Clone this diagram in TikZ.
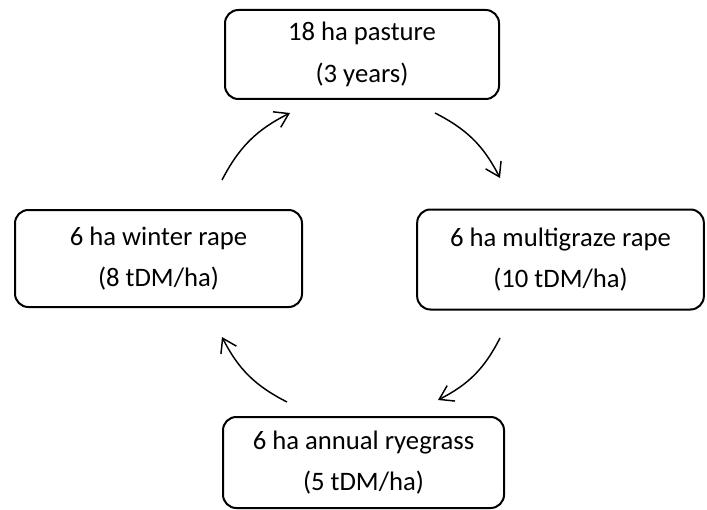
\documentclass[tikz,border=0pt]{standalone}
\usepackage{fontspec}
\setmainfont{Carlito}
\usetikzlibrary{arrows.meta}
\begin{document}
\begin{tikzpicture}[x=0.75pt,y=-0.75pt,
  box/.style={draw,line width=1.5pt,rounded corners=10pt,align=center,
    font=\fontsize{20}{31}\selectfont,inner sep=0pt},
  flow/.style={line width=1.1pt,-{Straight Barb[length=10pt,width=13pt,line width=1.1pt]},bend left=18}]
\useasboundingbox (0,0) rectangle (707,510);
\node[box,minimum width=205.5pt,minimum height=66.75pt] (past) at (362,54.5) {18 ha pasture\\(3 years)};
\node[box,minimum width=215.25pt,minimum height=72.75pt] (wint) at (158.5,258.5) {6 ha winter rape\\(8 tDM/ha)};
\node[box,minimum width=215pt,minimum height=75pt] (mult) at (560.5,259.5) {6 ha multigraze rape\\(10 tDM/ha)};
\node[box,minimum width=210.75pt,minimum height=68.25pt] (rye) at (363.5,462.5) {6 ha annual ryegrass\\(5 tDM/ha)};
\coordinate (a1) at (435,113); \coordinate (b1) at (500,178);
\coordinate (a2) at (500,338); \coordinate (b2) at (438,400);
\coordinate (a3) at (287,402); \coordinate (b3) at (222,337);
\coordinate (a4) at (222,180); \coordinate (b4) at (290,113);
\draw[flow] (a1) to (b1);
\draw[flow] (a2) to (b2);
\draw[flow] (a3) to (b3);
\draw[flow] (a4) to (b4);
\end{tikzpicture}
\end{document}
